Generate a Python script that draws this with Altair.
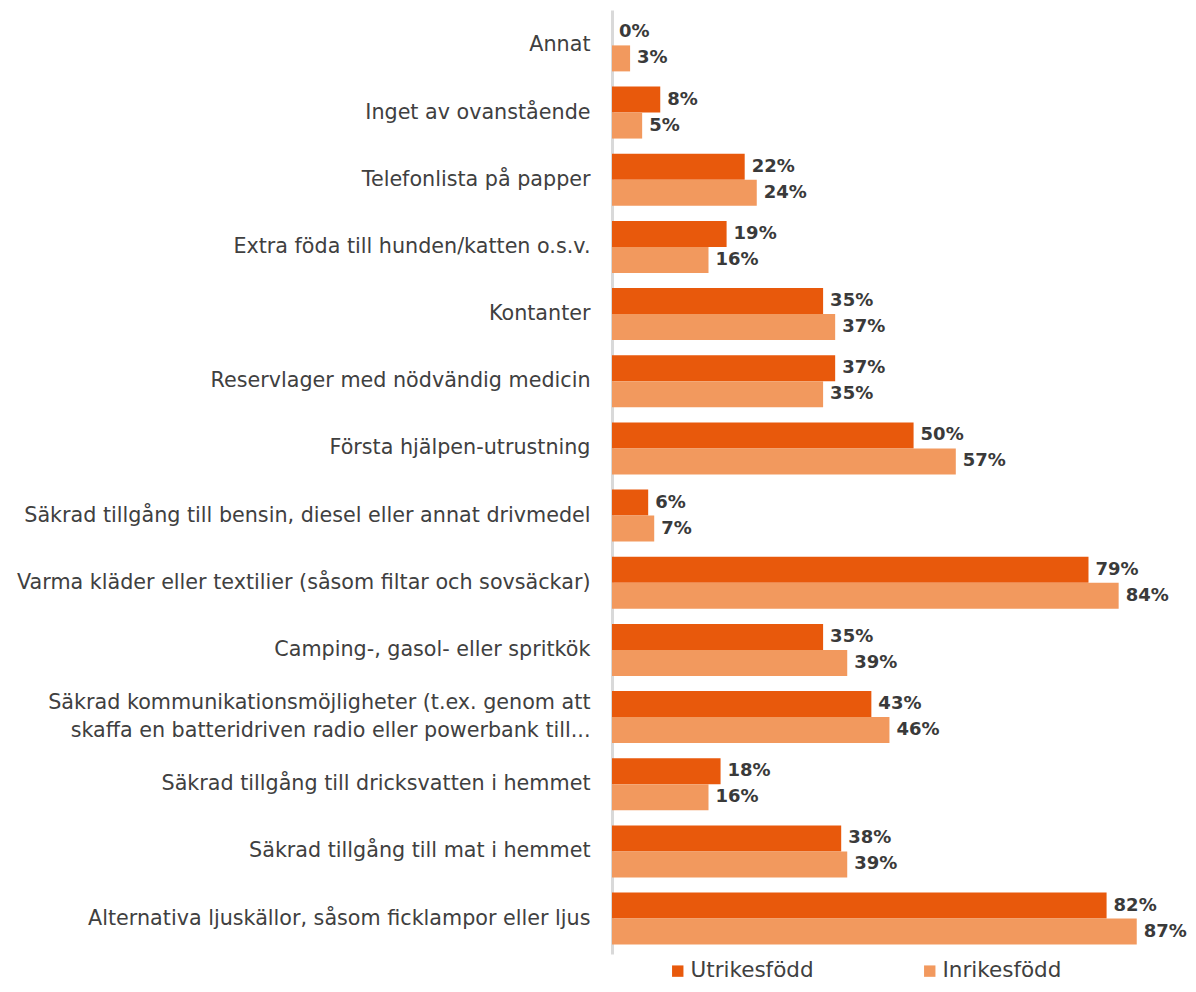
import altair as alt
import pandas as pd

categories = [
    "Annat",
    "Inget av ovanstående",
    "Telefonlista på papper",
    "Extra föda till hunden/katten o.s.v.",
    "Kontanter\u00a0",
    "Reservlager med nödvändig medicin",
    "Första hjälpen-utrustning",
    "Säkrad tillgång till bensin, diesel eller annat drivmedel\u00a0",
    "Varma kläder eller textilier (såsom filtar och sovsäckar)",
    "Camping-, gasol- eller spritkök",
    "Säkrad kommunikationsmöjligheter (t.ex. genom att\nskaffa en batteridriven radio eller powerbank till...",
    "Säkrad tillgång till dricksvatten i hemmet",
    "Säkrad tillgång till mat i hemmet",
    "Alternativa ljuskällor, såsom ficklampor eller ljus",
]
utrikesfodd = [0, 8, 22, 19, 35, 37, 50, 6, 79, 35, 43, 18, 38, 82]
inrikesfodd = [3, 5, 24, 16, 37, 35, 57, 7, 84, 39, 46, 16, 39, 87]
series = ["Utrikesfödd", "Inrikesfödd"]
colors = ["#E8590C", "#F2995E"]

rows = []
for i, c in enumerate(categories):
    for s, vals in zip(series, [utrikesfodd, inrikesfodd]):
        rows.append({"kategori": c, "grupp": s, "varde": vals[i], "etikett": f"{vals[i]}%"})
df = pd.DataFrame(rows)

FONT = "DejaVu Sans"

y_enc = alt.Y(
    "kategori:N",
    sort=categories,
    scale=alt.Scale(paddingInner=0.226, paddingOuter=0.14),
    axis=alt.Axis(
        title=None,
        labelFontSize=20.7,
        labelFont=FONT,
        labelColor="#404040",
        labelPadding=22,
        ticks=False,
        domainColor="#d9d9d9",
        domainWidth=3,
        labelLimit=800,
        labelExpr="split(datum.label, '\\n')",
        labelLineHeight=28,
        labelOffset={"condition": {"test": "indexof(datum.value, '\\n') >= 0", "value": -14}, "value": 0},
        minExtent=604,
        maxExtent=604,
    ),
)
yoff = alt.YOffset("grupp:N", sort=series, scale=alt.Scale(paddingInner=0, paddingOuter=0))
x_enc = alt.X("varde:Q", scale=alt.Scale(domain=[0, 95], nice=False), axis=None)

bars = alt.Chart(df).mark_bar().encode(
    y=y_enc,
    yOffset=yoff,
    x=x_enc,
    color=alt.Color(
        "grupp:N",
        sort=series,
        scale=alt.Scale(domain=series, range=colors),
        legend=alt.Legend(
            title=None,
            orient="none",
            legendX=55,
            legendY=950,
            direction="horizontal",
            columns=2,
            columnPadding=105,
            symbolType="square",
            symbolSize=130,
            symbolStrokeWidth=0,
            labelFontSize=21.5,
            labelFont=FONT,
            labelColor="#404040",
            labelOffset=2,
            padding=0,
        ),
    ),
)

text = alt.Chart(df).mark_text(
    align="left", baseline="middle", dx=7, fontWeight="bold", fontSize=18, font=FONT, color="#3a3a3a"
).encode(
    y=alt.Y("kategori:N", sort=categories),
    yOffset=alt.YOffset("grupp:N", sort=series),
    x=alt.X("varde:Q"),
    text="etikett:N",
)

chart = (
    alt.layer(bars, text)
    .properties(width=573, height=944, padding={"top": 2, "bottom": 0, "left": 0, "right": 0})
    .configure_view(stroke=None)
)

chart.save("out.html", embed_options={"renderer": "svg", "actions": False})
